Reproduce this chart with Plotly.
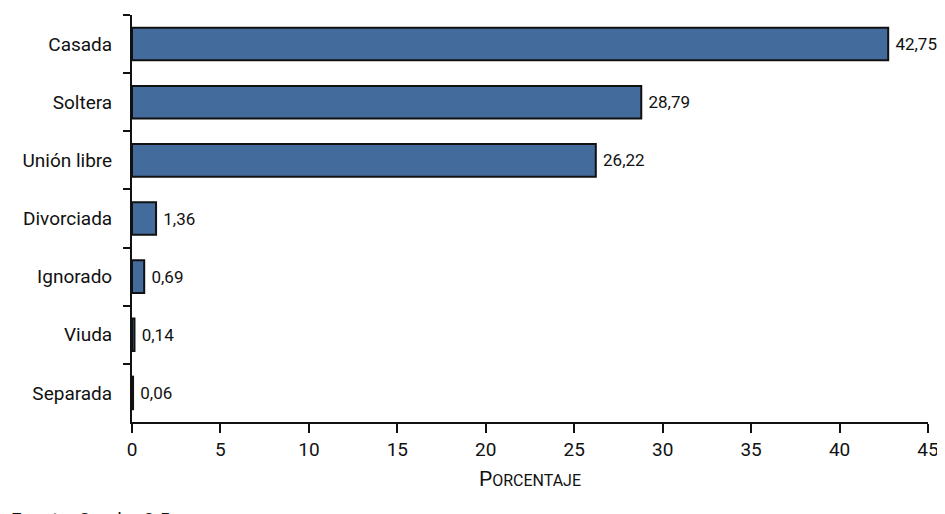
import plotly.graph_objects as go

categories = ["Casada", "Soltera", "Unión libre", "Divorciada", "Ignorado", "Viuda", "Separada"]
values = [42.75, 28.79, 26.22, 1.36, 0.69, 0.14, 0.06]
x_ticks = [0, 5, 10, 15, 20, 25, 30, 35, 40, 45]

FONT = "Roboto, sans-serif"

fig = go.Figure(go.Bar(
    x=values, y=categories, orientation="h",
    marker=dict(color="#436c9c", line=dict(color="#111111", width=2)),
    width=0.56,
    text=values, texttemplate="\u00a0%{x:.2f}", textposition="outside",
    textfont=dict(family=FONT, size=17, color="#111111"),
    cliponaxis=False,
))

fig.update_layout(
    width=937, height=506,
    margin=dict(l=124, r=17, t=7, b=92),
    paper_bgcolor="white", plot_bgcolor="white",
    separators=",.",
    showlegend=False,
    font=dict(family=FONT, size=19, color="#111111"),
    xaxis=dict(
        range=[0, 45], tickvals=x_ticks, ticks="outside", ticklen=9, tickwidth=2,
        tickcolor="#111111", showline=True, linecolor="#111111", linewidth=2,
        showgrid=False, zeroline=False, tickfont=dict(family=FONT, size=19),
        title=dict(text="P<span style='font-size:16px'>ORCENTAJE</span>",
                   font=dict(family=FONT, size=21), standoff=12),
    ),
    yaxis=dict(
        autorange="reversed", ticks="outside", ticklen=7, tickwidth=2,
        tickcolor="#111111", tickson="boundaries", showline=True,
        linecolor="#111111", linewidth=2, showgrid=False, zeroline=False,
        tickfont=dict(family=FONT, size=19), ticklabelstandoff=14,
    ),
)

fig.add_annotation(text="Fuente: Cuadro 3.5", xref="paper", yref="paper",
                   x=-0.155, y=-0.207, xanchor="left", yanchor="top",
                   showarrow=False, font=dict(family=FONT, size=19))

fig.write_html("out.html")
